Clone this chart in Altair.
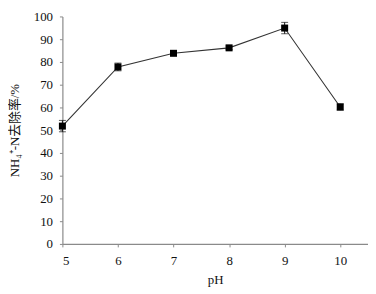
import altair as alt
import pandas as pd

ph = [5, 6, 7, 8, 9, 10]
removal = [51.8, 77.8, 83.8, 86.2, 94.9, 60.2]
err = [2.5, 1.7, 0.7, 0.8, 2.5, 1.4]
x_ticks = [5, 6, 7, 8, 9, 10]
y_ticks = [0, 10, 20, 30, 40, 50, 60, 70, 80, 90, 100]

df = pd.DataFrame({"ph": ph, "v": removal, "e": err})
df["lo"] = df["v"] - df["e"]
df["hi"] = df["v"] + df["e"]

FONT = "Times New Roman, Liberation Serif, Noto Sans CJK SC, serif"

xs = alt.Scale(domain=[5, 10.5], nice=False, zero=False)
ys = alt.Scale(domain=[0, 100], nice=False)
xa = alt.Axis(values=x_ticks, title="pH", grid=False, tickSize=3,
              labelPadding=8, titlePadding=6, format="d", labelOverlap=False)
ya = alt.Axis(values=y_ticks, title="NH₄⁺-N去除率/%", grid=False, tickSize=3,
              labelPadding=7, titlePadding=12, labelOverlap=False)

def X():
    return alt.X("ph:Q", scale=xs, axis=xa)

def Y(f):
    return alt.Y(f + ":Q", scale=ys, axis=ya)

base = alt.Chart(df)
line = base.mark_line(color="#333", strokeWidth=1.1).encode(x=X(), y=Y("v"))
rules = base.mark_rule(color="#111", strokeWidth=1).encode(x=X(), y=Y("lo"), y2="hi:Q")
cap_lo = base.mark_tick(color="#111", thickness=1, size=7, orient="horizontal").encode(x=X(), y=Y("lo"))
cap_hi = base.mark_tick(color="#111", thickness=1, size=7, orient="horizontal").encode(x=X(), y=Y("hi"))
pts = base.mark_square(color="#000", size=50, opacity=1).encode(x=X(), y=Y("v"))

chart = alt.layer(line, rules, cap_lo, cap_hi, pts).properties(
    width=309, height=230,
    background="white",
    autosize=alt.AutoSizeParams(type="none"),
    padding={"left": 55, "top": 7, "right": 0, "bottom": 42},
).configure_view(stroke=None).configure_axis(
    labelFont=FONT, titleFont=FONT, labelFontSize=13, titleFontSize=13,
    titleFontWeight="normal", labelColor="#111", titleColor="#111",
    domainColor="#8a8a8a", tickColor="#8a8a8a", domainWidth=1.2,
)

chart.save("out.html", embed_options={"renderer": "svg", "actions": False})
